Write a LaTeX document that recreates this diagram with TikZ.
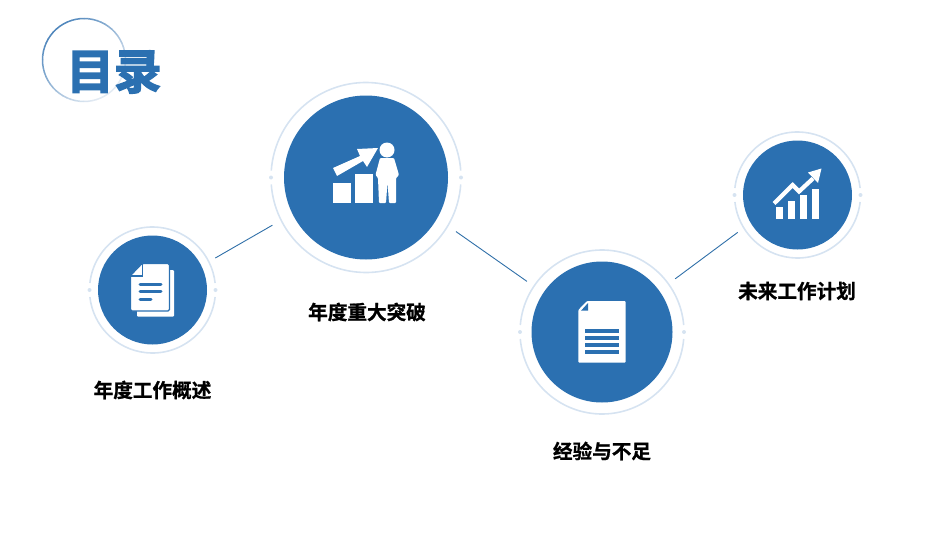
\documentclass[tikz,border=0pt]{standalone}
\usepackage{fontspec}
\usepackage{tikz}
\usetikzlibrary{positioning,calc}
\newfontfamily\cjkbold{Noto Sans CJK SC Bold}[FakeBold=1]
\newfontfamily\cjkhead{Noto Sans CJK SC Bold}[FakeBold=3]
\definecolor{hubblue}{HTML}{2B70B1}
\definecolor{ringpale}{HTML}{D6E3F1}
\definecolor{linkblue}{HTML}{2F6FA8}
\definecolor{arcdark}{HTML}{4F86BC}
\definecolor{arcpale}{HTML}{E3EBF3}

\begin{document}
\begin{tikzpicture}[
  x=1pt,y=-1pt,
  hub/.style={circle,fill=hubblue,inner sep=0pt},
  small/.style={hub,minimum size=109pt,outer sep=16pt},
  label/.style={font=\cjkbold\fontsize{19.6}{23}\selectfont,text=black,inner sep=0pt},
  link/.style={draw=linkblue,line width=0.9pt},
  ring/.style={draw=ringpale,line width=1.6pt},
  icon/.style={fill=white,draw=none},
  rule/.style={draw=hubblue,line cap=round}
]
\useasboundingbox (0,0) rectangle (950,535);

% ---- Title ----
\foreach \a in {0,6,...,354} {
  \pgfmathsetmacro\mix{max(0,min(100,48+52*cos(\a-225)))}
  \draw[color=arcdark!\mix!arcpale,line width=1.5pt] ({84+41.5*cos(\a)},{60+41.5*sin(\a)}) arc (\a:\a+6.5:41.5);
}
\node[font=\cjkhead\fontsize{47.5}{50}\selectfont,text=hubblue,inner sep=0pt] (title) at (114,72) {目录};

% ---- Hubs ----
\node[small] (hubA) at (152.5,290) {};
\node[hub,minimum size=164pt,outer sep=23pt] (hubB) at (366,177.5) {};
\node[hub,minimum size=141pt,outer sep=20pt] (hubC) at (602,332) {};
\node[small] (hubD) at (797.5,195) {};

% ---- Rings ----
\foreach \n/\r in {hubA/63,hubB/95,hubC/82,hubD/63} {
  \pgfmathsetmacro\g{400/\r}
  \draw[ring] ([shift={(\g:\r)}]\n.center) arc (\g:180-\g:\r);
  \draw[ring] ([shift={(180+\g:\r)}]\n.center) arc (180+\g:360-\g:\r);
  \fill[ringpale] ([xshift=-\r pt]\n.center) circle (2);
  \fill[ringpale] ([xshift=\r pt]\n.center) circle (2);
}

% ---- Links ----
\draw[link] (hubA.27) -- (hubB.207);
\draw[link] (hubB.-31) -- (hubC.146);
\draw[link] (hubC.36) -- (hubD.212.5);

% ---- Labels ----
\node[label] (labelA) at (152.5,390) {年度工作概述};
\node[label] (labelB) at (367,312) {年度重大突破};
\node[label] (labelC) at (602,451) {经验与不足};
\node[label] (labelD) at (797,291) {未来工作计划};

% ---- Icon: sheets ----
\fill[icon,rounded corners=1pt] (137,270) rectangle (174,316.5);
\filldraw[fill=white,draw=hubblue,line width=1.3pt,rounded corners=1.5pt] (130.5,275.5) -- (142,263.5) -- (169.5,263.5) -- (169.5,311) -- (130.5,311) -- cycle;
\draw[draw=hubblue,line width=1.1pt] (131,276) -- (142.5,276) -- (142.5,264);
\foreach \y/\e in {284/161,291.7/161,299.3/151} {
  \draw[rule,line width=3pt] (140,\y) -- (\e,\y);
}

% ---- Icon: bars and person ----
\fill[icon] (333,183) rectangle (351,203);
\fill[icon] (355,174) rectangle (372.5,203);
\fill[icon] (333,168) -- (360,156) -- (357,149) -- (378,148) -- (367,167) -- (363,161) -- (337,176) -- cycle;
\fill[icon] (387,150) circle (7.5);
\fill[icon,rounded corners=1pt] (380,158) -- (394,158) -- (399,175) -- (396,178) -- (396,203) -- (389,203) -- (387.5,182) -- (386,203) -- (379,203) -- (378,178) -- (375.5,175) -- cycle;

% ---- Icon: page ----
\fill[icon,rounded corners=1pt] (578.3,310) -- (587,301) -- (625.7,301) -- (625.7,362.7) -- (578.3,362.7) -- cycle;
\fill[hubblue] (581,310.7) -- (588,310.7) -- (588,303) -- cycle;
\foreach \y in {330.7,337.7,344.7,352} {
  \draw[draw=hubblue,line width=4pt] (585,\y) -- (619,\y);
}

% ---- Icon: chart ----
\foreach \l/\r/\t in {775.7/782.7/206.7,787.7/795/201,800/807.3/195,812.3/819.3/189.3} {
  \fill[icon] (\l,\t) rectangle (\r,219);
}
\draw[draw=white,line width=4.2pt] (774,203.5) -- (792.7,185) -- (799,191.5) -- (813,178.5);
\fill[icon] (821.5,168.5) -- (808,172.5) -- (818,183) -- cycle;

\end{tikzpicture}
\end{document}
